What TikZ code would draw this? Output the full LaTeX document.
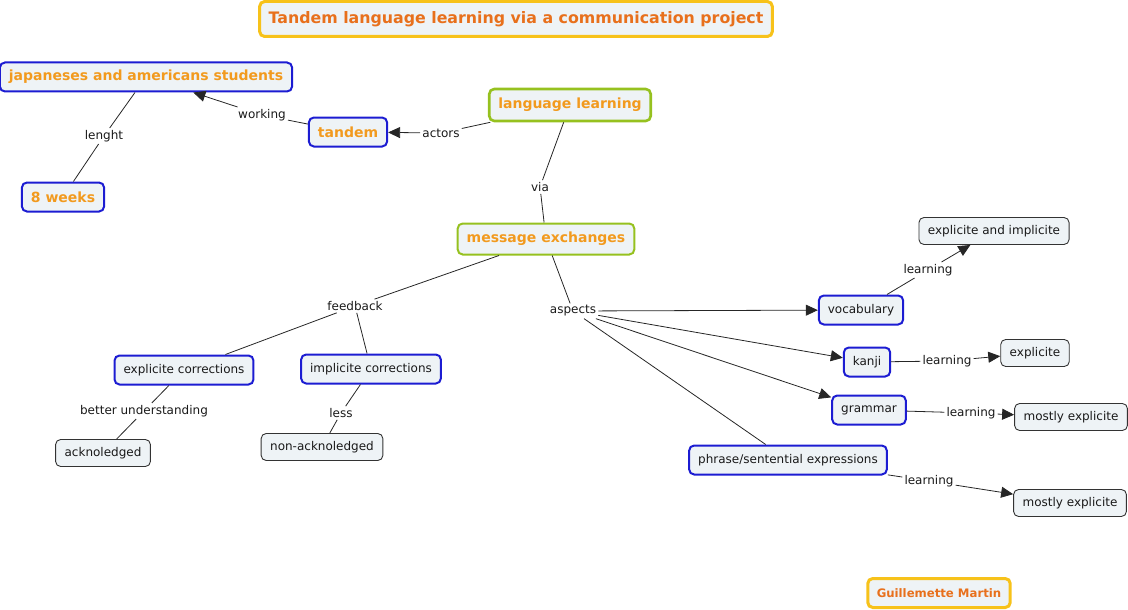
\documentclass[tikz,border=0pt]{standalone}
\usepackage{fontspec}
\setmainfont{DejaVu Sans}
\usetikzlibrary{arrows.meta}
\definecolor{boxfill}{HTML}{EEF3F6}
\definecolor{conblue}{HTML}{1C1CD2}
\definecolor{congreen}{HTML}{96C11F}
\definecolor{conyellow}{HTML}{F7C21A}
\definecolor{conorange}{HTML}{F29A1E}
\definecolor{titleorange}{HTML}{E8701C}
\tikzset{
	concept/.style = {shape=rectangle, rounded corners=5pt,
		draw=conblue, line width=2pt, fill=boxfill,
		font=\fontsize{12}{14}\selectfont, text=black!90,
		anchor=center, align=center,
		minimum height=29pt, inner xsep=9pt},
	keyconcept/.style = {concept, font=\fontsize{14}{16}\selectfont\bfseries,
		text=conorange},
	maincon/.style  = {keyconcept, draw=congreen, line width=2.6pt, minimum height=32pt},
	leaf/.style     = {concept, draw=black!80, line width=0.9pt, minimum height=27pt},
	titlebox/.style = {keyconcept, draw=conyellow, line width=3pt,
		font=\fontsize{15.8}{18}\selectfont\bfseries, text=titleorange, minimum height=35pt},
	linkword/.style = {font=\fontsize{12}{14}\selectfont, text=black!90, inner sep=2pt},
	link/.style     = {draw=black!85, line width=0.8pt},
	linkto/.style   = {link, -{Triangle[length=12pt,width=11pt]}}
}

\begin{document}
\begin{tikzpicture}[x=1pt, y=-1pt]
	\useasboundingbox (0,0) rectangle (1128,610);
	\node [titlebox] at (516,19) (title) {Tandem language learning via a communication project};
	\node [titlebox, font=\fontsize{11.7}{13}\selectfont\bfseries, minimum height=29pt, inner xsep=9pt] at (939,593) (author) {Guillemette Martin};

	\node [maincon] at (570,105) (langlearn) {language learning};
	\node [maincon, line width=2pt, minimum height=31pt] at (546,239) (msgex) {message exchanges};
	\node [keyconcept] at (146,77) (students) {japaneses and americans students};
	\node [keyconcept] at (63,197) (weeks) {8 weeks};
	\node [keyconcept] at (348,132) (tandem) {tandem};

	\node [concept] at (184,370) (explcorr) {explicite corrections};
	\node [concept] at (371,369) (implcorr) {implicite corrections};
	\node [leaf] at (103,453) (ackn) {acknoledged};
	\node [leaf] at (322,447) (nonackn) {non-acknoledged};

	\node [concept] at (861,310) (vocab) {vocabulary};
	\node [concept] at (867,362) (kanji) {kanji};
	\node [concept] at (869,410) (grammar) {grammar};
	\node [concept] at (788,460) (phrase) {phrase/sentential expressions};
	\node [leaf] at (994,231) (vocabres) {explicite and implicite};
	\node [leaf] at (1035,353) (kanjires) {explicite};
	\node [leaf] at (1071,417) (grammarres) {mostly explicite};
	\node [leaf] at (1070,503) (phraseres) {mostly explicite};

	\node [linkword] at (441,133) (actors) {actors};
	\node [linkword] at (262,115) (working) {working};
	\node [linkword] at (104,136) (lenght) {lenght};
	\node [linkword] at (540,187) (via) {via};
	\node [linkword] at (355,306) (feedback) {feedback};
	\node [linkword] at (144,411) (betterund) {better understanding};
	\node [linkword] at (341,413) (less) {less};
	\node [linkword] at (573,311) (aspects) {aspects};
	\node [linkword] at (928,270) (learnvocab) {learning};
	\node [linkword] at (947,361) (learnkanji) {learning};
	\node [linkword] at (971,413) (learngrammar) {learning};
	\node [linkword] at (929,481) (learnphrase) {learning};

	\draw [link] (langlearn) -- (actors);
	\draw [linkto] (actors) -- (tandem);
	\draw [link] (tandem) -- (working);
	\draw [linkto] (working) -- (students);
	\draw [link] (students) -- (lenght);
	\draw [link] (lenght) -- (weeks);
	\draw [link] (langlearn) -- (via);
	\draw [link] (via) -- (msgex);
	\draw [link] (msgex) -- (feedback);
	\draw [link] (feedback) -- (explcorr);
	\draw [link] (feedback) -- (implcorr);
	\draw [link] (explcorr) -- (betterund);
	\draw [link] (betterund) -- (ackn);
	\draw [link] (implcorr) -- (less);
	\draw [link] (less) -- (nonackn);
	\draw [link] (msgex) -- (aspects);
	\draw [linkto] (aspects) -- (vocab);
	\draw [linkto] (aspects) -- (kanji);
	\draw [linkto] (aspects) -- (grammar);
	\draw [link] (aspects) -- (phrase);
	\draw [link] (vocab) -- (learnvocab);
	\draw [linkto] (learnvocab) -- (vocabres);
	\draw [link] (kanji) -- (learnkanji);
	\draw [linkto] (learnkanji) -- (kanjires);
	\draw [link] (grammar) -- (learngrammar);
	\draw [linkto] (learngrammar) -- (grammarres);
	\draw [link] (phrase) -- (learnphrase);
	\draw [linkto] (learnphrase) -- (phraseres);
\end{tikzpicture}
\end{document}
